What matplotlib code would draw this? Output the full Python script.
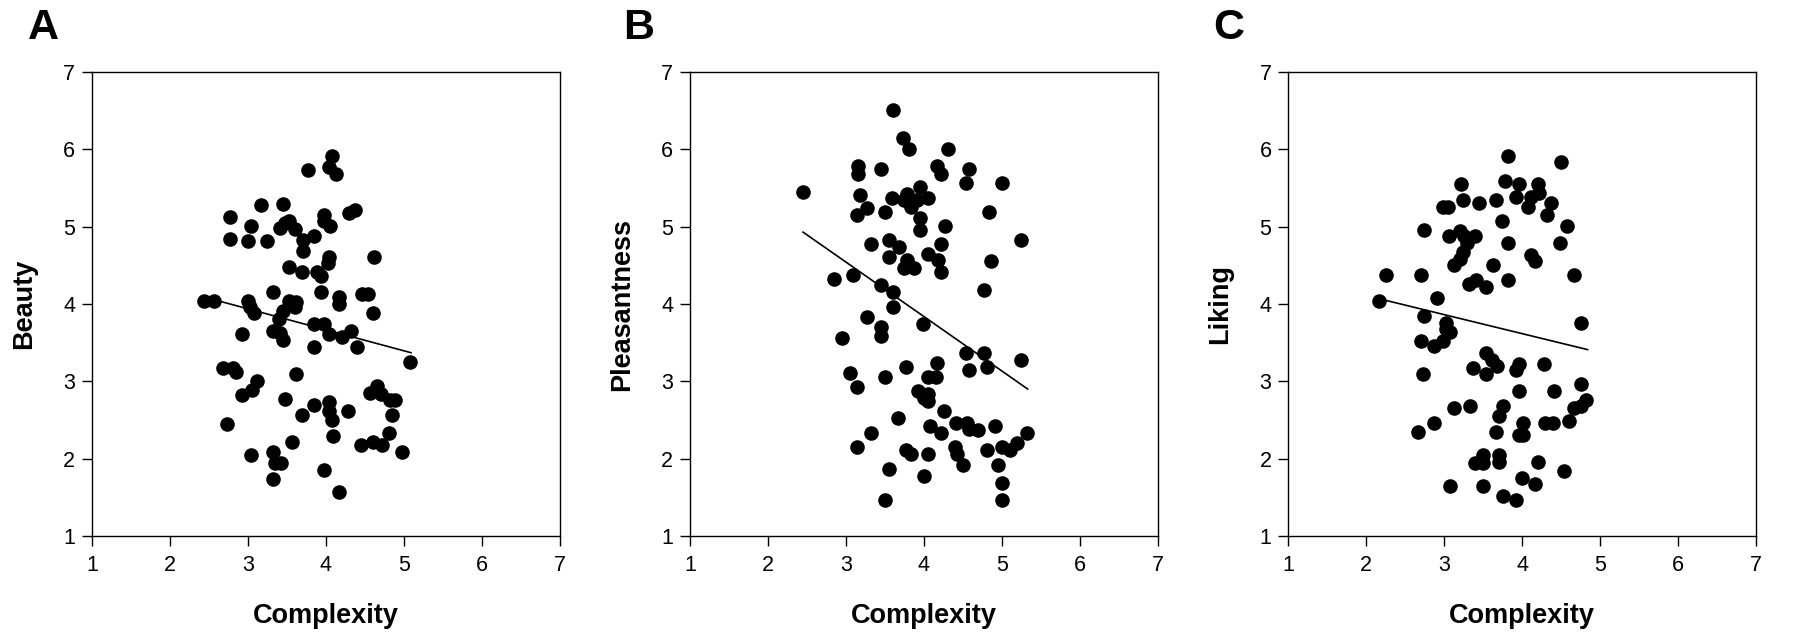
import matplotlib
matplotlib.use("Agg")
import matplotlib.pyplot as plt

plt.rcParams['font.family'] = ['Liberation Sans', 'DejaVu Sans']

# panel A: Beauty vs Complexity
beauty_x = [4.08, 3.77, 4.04, 4.13, 3.17, 3.45, 2.77, 3.04, 2.77, 3.00, 3.24, 3.41, 3.47, 3.53,
            3.60, 3.70, 3.84, 3.71, 3.97, 3.98, 4.05, 4.29, 4.37, 3.52, 3.69, 3.89, 3.93, 4.04,
            4.03, 4.61, 3.32, 3.93, 4.17, 4.17, 4.46, 4.54, 2.43, 2.57, 3.00, 3.02, 3.08, 3.52,
            3.61, 3.60, 3.45, 3.40, 4.60, 2.92, 3.32, 3.41, 3.45, 3.84, 3.97, 4.04, 4.20, 4.32,
            3.84, 4.40, 5.08, 2.68, 2.81, 2.85, 3.61, 3.12, 3.05, 2.92, 3.48, 3.84, 4.04, 4.04,
            4.08, 3.69, 4.28, 4.57, 4.65, 4.71, 4.82, 4.89, 4.84, 4.81, 2.73, 3.56, 4.09, 4.45,
            4.60, 4.72, 4.97, 3.04, 3.32, 3.35, 3.42, 3.32, 3.97, 4.17]
beauty_y = [5.92, 5.73, 5.77, 5.68, 5.28, 5.29, 5.12, 5.01, 4.84, 4.81, 4.81, 4.98, 5.05, 5.07,
            4.97, 4.83, 4.88, 4.68, 5.15, 5.07, 5.01, 5.18, 5.21, 4.48, 4.41, 4.41, 4.36, 4.61,
            4.53, 4.61, 4.16, 4.16, 4.09, 4.00, 4.13, 4.13, 4.04, 4.04, 4.04, 3.96, 3.88, 4.04,
            4.03, 3.96, 3.91, 3.81, 3.88, 3.61, 3.65, 3.62, 3.53, 3.74, 3.74, 3.61, 3.57, 3.65,
            3.45, 3.45, 3.25, 3.17, 3.17, 3.12, 3.09, 3.01, 2.89, 2.82, 2.77, 2.69, 2.73, 2.62,
            2.50, 2.57, 2.61, 2.85, 2.94, 2.83, 2.76, 2.76, 2.57, 2.33, 2.45, 2.22, 2.29, 2.17,
            2.22, 2.17, 2.09, 2.05, 2.09, 1.94, 1.94, 1.73, 1.85, 1.57]
beauty_fit_x = [2.66, 5.09]
beauty_fit_y = [4.03, 3.37]

# panel B: Pleasantness vs Complexity
pleas_x = [3.60, 3.73, 3.81, 4.31, 3.15, 3.15, 3.45, 4.17, 4.22, 4.58, 4.54, 5.00, 2.45, 3.18,
           3.59, 3.78, 3.75, 3.83, 3.91, 3.95, 4.05, 3.27, 3.14, 3.50, 3.95, 3.95, 4.27, 4.83,
           5.24, 3.32, 3.55, 3.68, 3.55, 3.78, 3.74, 3.87, 4.05, 4.22, 4.18, 4.22, 4.86, 4.77,
           2.85, 3.09, 3.45, 3.60, 3.60, 3.27, 3.45, 3.45, 3.99, 2.95, 4.54, 4.77, 5.24, 4.17,
           3.77, 4.58, 4.81, 3.05, 3.50, 3.14, 4.05, 4.15, 3.92, 4.05, 4.00, 4.05, 4.26, 3.67,
           4.41, 4.55, 4.58, 4.69, 4.91, 4.08, 3.32, 4.22, 5.32, 5.19, 5.10, 5.00, 4.81, 3.14,
           3.77, 3.83, 4.05, 4.40, 4.42, 4.50, 4.95, 5.00, 3.55, 4.00, 3.50, 5.00]
pleas_y = [6.51, 6.15, 6.01, 6.01, 5.78, 5.68, 5.74, 5.78, 5.68, 5.74, 5.56, 5.56, 5.45, 5.41,
           5.37, 5.42, 5.34, 5.25, 5.35, 5.51, 5.37, 5.24, 5.15, 5.19, 5.11, 4.96, 5.01, 5.19,
           4.83, 4.78, 4.83, 4.74, 4.61, 4.57, 4.47, 4.47, 4.65, 4.78, 4.57, 4.42, 4.55, 4.18,
           4.32, 4.37, 4.24, 4.15, 3.96, 3.83, 3.70, 3.59, 3.74, 3.56, 3.37, 3.37, 3.28, 3.24,
           3.19, 3.15, 3.19, 3.11, 3.06, 2.92, 3.06, 3.06, 2.87, 2.83, 2.78, 2.74, 2.61, 2.52,
           2.46, 2.46, 2.38, 2.37, 2.42, 2.42, 2.33, 2.33, 2.33, 2.20, 2.11, 2.15, 2.11, 2.15,
           2.11, 2.06, 2.06, 2.15, 2.06, 1.92, 1.92, 1.68, 1.87, 1.78, 1.46, 1.46]
pleas_fit_x = [2.45, 5.33]
pleas_fit_y = [4.93, 2.90]

# panel C: Liking vs Complexity
liking_x = [3.82, 4.50, 3.22, 3.78, 3.96, 4.20, 4.22, 4.11, 3.92, 2.99, 3.05, 3.24, 3.45, 3.66,
            4.08, 4.37, 4.32, 3.74, 4.58, 2.74, 3.06, 3.20, 3.25, 3.40, 3.29, 3.82, 4.49, 3.24,
            3.20, 3.13, 4.12, 4.17, 3.63, 2.25, 2.71, 4.66, 3.32, 3.41, 3.54, 3.82, 2.91, 2.16,
            2.74, 3.03, 3.03, 3.08, 4.75, 2.71, 2.87, 2.99, 3.54, 3.62, 3.68, 3.37, 3.54, 2.73,
            3.96, 3.92, 4.28, 4.75, 3.96, 4.41, 4.82, 4.75, 4.67, 3.33, 3.75, 3.13, 3.70, 2.87,
            4.01, 4.30, 4.39, 4.60, 2.67, 3.67, 3.96, 4.01, 3.50, 3.70, 3.40, 3.50, 3.70, 4.20,
            4.54, 4.00, 4.17, 3.08, 3.50, 3.75, 3.92]
liking_y = [5.92, 5.84, 5.55, 5.59, 5.55, 5.55, 5.44, 5.38, 5.38, 5.26, 5.26, 5.34, 5.31, 5.34,
            5.26, 5.31, 5.15, 5.08, 5.01, 4.96, 4.88, 4.94, 4.88, 4.88, 4.79, 4.79, 4.79, 4.67,
            4.58, 4.51, 4.63, 4.55, 4.51, 4.38, 4.38, 4.38, 4.26, 4.31, 4.22, 4.31, 4.08, 4.04,
            3.84, 3.76, 3.68, 3.64, 3.76, 3.52, 3.46, 3.52, 3.36, 3.28, 3.20, 3.17, 3.09, 3.09,
            3.23, 3.14, 3.22, 2.97, 2.88, 2.88, 2.76, 2.68, 2.65, 2.68, 2.68, 2.65, 2.55, 2.46,
            2.46, 2.46, 2.46, 2.49, 2.34, 2.34, 2.31, 2.31, 2.05, 2.05, 1.94, 1.94, 1.96, 1.96,
            1.84, 1.75, 1.67, 1.64, 1.64, 1.52, 1.46]
liking_fit_x = [2.24, 4.84]
liking_fit_y = [4.05, 3.41]

panels = [
    ("A", "Beauty", beauty_x, beauty_y, beauty_fit_x, beauty_fit_y),
    ("B", "Pleasantness", pleas_x, pleas_y, pleas_fit_x, pleas_fit_y),
    ("C", "Liking", liking_x, liking_y, liking_fit_x, liking_fit_y),
]
lefts = [0.0511, 0.3833, 0.7156]
letter_x = [0.0155, 0.346, 0.674]

fig = plt.figure(figsize=(18, 6.38), dpi=100)

for i, (letter, ylab, xs, ys, fx, fy) in enumerate(panels):
    ax = fig.add_axes([lefts[i], 0.16, 0.26, 0.727])
    ax.plot(xs, ys, 'o', color='black', markersize=10.5, markeredgewidth=0)
    ax.plot(fx, fy, color='black', linewidth=1.2)
    ax.set_xlim(1, 7)
    ax.set_ylim(1, 7)
    ax.set_xticks(range(1, 8))
    ax.set_yticks(range(1, 8))
    ax.tick_params(axis='both', direction='out', length=7, width=1, labelsize=15.5,
                   top=False, right=False)
    ax.tick_params(axis='y', pad=5)
    ax.tick_params(axis='x', pad=7)
    for sp in ax.spines.values():
        sp.set_linewidth(1)
    ax.set_xlabel("Complexity", fontsize=19.5, fontweight='bold', va='center')
    ax.set_ylabel(ylab, fontsize=19.5, fontweight='bold', va='center')
    ax.xaxis.set_label_coords(0.5, -0.172)
    ax.yaxis.set_label_coords(-0.145, 0.5)
    fig.text(letter_x[i], 0.988, letter, fontsize=31, fontweight='bold', ha='left', va='top')

fig.savefig("out.png", dpi=100)
